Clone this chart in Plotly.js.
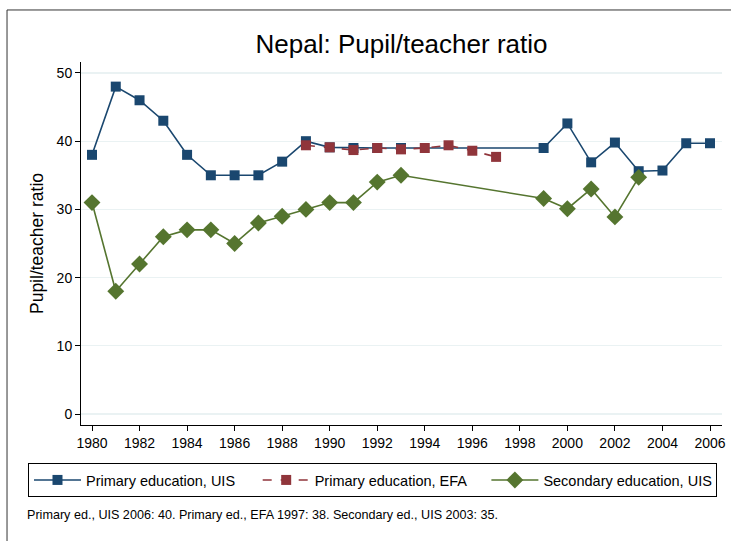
<!DOCTYPE html>
<html>
<head>
<meta charset="utf-8">
<script src="https://cdn.plot.ly/plotly-3.0.1.min.js"></script>
<style>
html,body{margin:0;padding:0;background:#fff;}
#chart{width:731px;height:541px;}
</style>
</head>
<body>
<div id="chart"></div>
<script>
const primaryUisYears = [1980,1981,1982,1983,1984,1985,1986,1987,1988,1989,1990,1991,1992,1993,1999,2000,2001,2002,2003,2004,2005,2006];
const primaryUisValues = [38,48,46,43,38,35,35,35,37,40,39.1,39,39,39,39,42.6,36.9,39.8,35.6,35.7,39.7,39.7];

const primaryEfaYears = [1989,1990,1991,1992,1993,1994,1995,1996,1997];
const primaryEfaValues = [39.4,39.1,38.7,39.0,38.8,39.0,39.4,38.6,37.7];

const secondaryUisYears = [1980,1981,1982,1983,1984,1985,1986,1987,1988,1989,1990,1991,1992,1993,1999,2000,2001,2002,2003];
const secondaryUisValues = [31,18,22,26,27,27,25,28,29,30,31,31,34,35,31.6,30.1,33.0,28.9,34.7];

const xTicks = [1980,1982,1984,1986,1988,1990,1992,1994,1996,1998,2000,2002,2004,2006];
const yTicks = [0,10,20,30,40,50];

const titleText = "Nepal: Pupil/teacher ratio";
const yTitleText = "Pupil/teacher ratio";
const noteText = "Primary ed., UIS 2006: 40. Primary ed., EFA 1997: 38. Secondary ed., UIS 2003: 35.";

const font = "Liberation Sans, Arial, sans-serif";

const traces = [
  {x: primaryUisYears, y: primaryUisValues, name: "Primary education, UIS", type: "scatter", mode: "lines+markers",
   line: {color: "#1a476f", width: 1.6}, marker: {symbol: "square", size: 10, color: "#1a476f"}},
  {x: primaryEfaYears, y: primaryEfaValues, name: "Primary education, EFA", type: "scatter", mode: "lines+markers",
   line: {color: "#90353b", width: 1.6, dash: "dash"}, marker: {symbol: "square", size: 10, color: "#90353b"}},
  {x: secondaryUisYears, y: secondaryUisValues, name: "Secondary education, UIS", type: "scatter", mode: "lines+markers",
   line: {color: "#55752f", width: 1.6}, marker: {symbol: "diamond", size: 13, color: "#55752f"}}
];

const layout = {
  width: 731, height: 541,
  margin: {l: 81, r: 9, t: 62, b: 116},
  paper_bgcolor: "#fff", plot_bgcolor: "#fff",
  font: {family: font, color: "#000", size: 14},
  title: {text: titleText, font: {family: font, size: 26, color: "#000"}, xref: "paper", x: 0.5, xanchor: "center", y: 0.918, yanchor: "middle"},
  xaxis: {range: [1979.537, 2006.505], tickvals: xTicks, ticks: "outside", ticklen: 5, tickcolor: "#000",
    showline: true, linecolor: "#000", linewidth: 1, showgrid: false, zeroline: false,
    tickfont: {size: 14}},
  yaxis: {range: [-1.61, 51.61], tickvals: yTicks, ticks: "outside", ticklen: 5, tickcolor: "#000",
    showline: true, linecolor: "#000", linewidth: 1, showgrid: true, gridcolor: "#eaf2f3", gridwidth: 1.2, zeroline: false,
    tickfont: {size: 14},
    title: {text: yTitleText, font: {size: 17.5}, standoff: 8}},
  showlegend: true,
  legend: {orientation: "h", x: -0.0827, xanchor: "left", y: -0.1047, yanchor: "top",
    bordercolor: "#000", borderwidth: 1, bgcolor: "#fff", font: {size: 14.5},
    itemwidth: 47, entrywidth: 166.7, traceorder: "normal"},
  annotations: [
    {text: noteText, xref: "paper", yref: "paper", x: -0.087, y: -0.249, xanchor: "left", yanchor: "middle",
     showarrow: false, font: {size: 12.6}}
  ],
  shapes: [
    {type: "rect", xref: "paper", yref: "paper", x0: -0.1154, x1: 3, y0: -3, y1: 1.1433,
     line: {color: "#333", width: 1}, fillcolor: "rgba(0,0,0,0)", layer: "below"}
  ]
};

Plotly.newPlot("chart", traces, layout, {displayModeBar: false, staticPlot: true});
</script>
</body>
</html>
